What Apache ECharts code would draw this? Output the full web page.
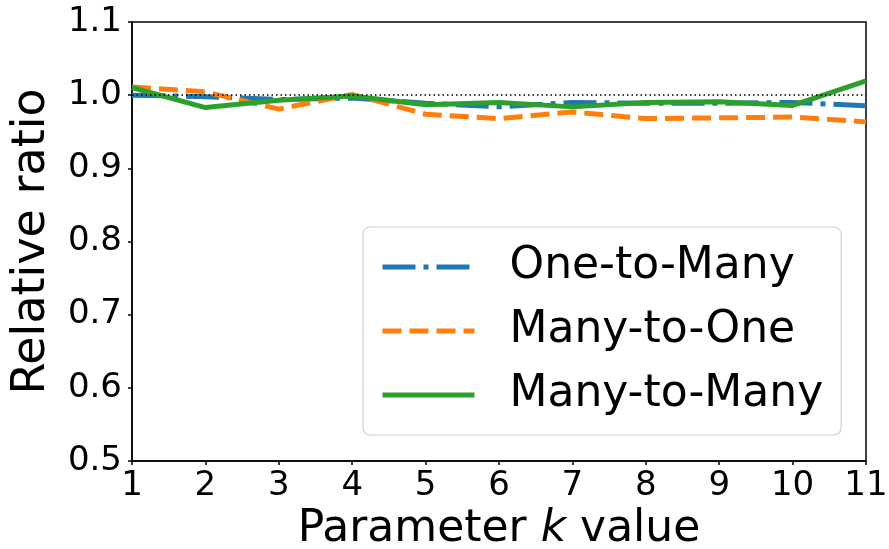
<!DOCTYPE html>
<html>
<head>
<meta charset="utf-8">
<script src="https://cdn.jsdelivr.net/npm/echarts@6/dist/echarts.min.js"></script>
<style>
html,body{margin:0;padding:0;background:#fff;}
#chart{width:889px;height:549px;}
</style>
</head>
<body>
<div id="chart"></div>
<script>
const kValues = [1, 2, 3, 4, 5, 6, 7, 8, 9, 10, 11];
const oneToMany = [1.000, 0.998, 0.994, 0.996, 0.989, 0.984, 0.990, 0.989, 0.989, 0.990, 0.9855];
const manyToOne = [1.011, 1.0045, 0.981, 1.001, 0.974, 0.968, 0.977, 0.968, 0.969, 0.970, 0.9635];
const manyToMany = [1.0105, 0.983, 0.993, 0.999, 0.987, 0.990, 0.984, 0.990, 0.991, 0.986, 1.0195];
const seriesNames = ['One-to-Many', 'Many-to-One', 'Many-to-Many'];
const yTicks = [0.5, 0.6, 0.7, 0.8, 0.9, 1.0, 1.1];
const refValue = 1.0;

const FONT = 'DejaVu Sans';
const pairs = arr => kValues.map((k, i) => [k, arr[i]]);

const chart = echarts.init(document.getElementById('chart'), null, {renderer: 'canvas'});
chart.setOption({
  animation: false,
  backgroundColor: '#fff',
  textStyle: {fontFamily: FONT},
  grid: {left: 132, right: 23, top: 22, bottom: 88, show: true, borderColor: '#000', borderWidth: 1.5,
         backgroundColor: 'transparent', containLabel: false, outerBoundsMode: 'none'},
  xAxis: {
    type: 'value', min: 1, max: 11, interval: 1,
    name: 'Parameter {i|k} value', nameLocation: 'middle', nameGap: 46,
    nameTextStyle: {fontFamily: FONT, fontSize: 44, color: '#000', rich: {i: {fontFamily: FONT, fontSize: 44, fontStyle: 'italic', color: '#000'}}},
    axisLine: {show: true, lineStyle: {color: '#000', width: 1.5}},
    axisTick: {show: true, length: 4, lineStyle: {color: '#000', width: 1.5}},
    axisLabel: {fontFamily: FONT, fontSize: 34, color: '#000', margin: 8},
    splitLine: {show: false}
  },
  yAxis: {
    type: 'value', min: 0.5, max: 1.1, interval: 0.1,
    name: 'Relative ratio', nameLocation: 'middle', nameGap: 77,
    nameTextStyle: {fontFamily: FONT, fontSize: 46, color: '#000'},
    axisLine: {show: true, lineStyle: {color: '#000', width: 1.5}},
    axisTick: {show: true, length: 4, lineStyle: {color: '#000', width: 1.5}},
    axisLabel: {fontFamily: FONT, fontSize: 34, color: '#000', margin: 10,
      formatter: v => { const t = yTicks.find(x => Math.abs(x - v) < 1e-6); return (t !== undefined ? t : v).toFixed(1); }},
    splitLine: {show: false}
  },
  legend: {
    orient: 'vertical', left: 363, top: 227,
    padding: [16, 18, 16, 17],
    itemWidth: 92, itemHeight: 14, itemGap: 16,
    backgroundColor: 'rgba(255,255,255,0.8)', borderColor: '#d0d0d0', borderWidth: 1.2, borderRadius: 7,
    itemStyle: {opacity: 0},
    lineStyle: {width: 5},
    textStyle: {fontFamily: FONT, fontSize: 44, color: '#000', padding: [0, 0, 0, 30], lineHeight: 48},
    data: seriesNames
  },
  series: [
    {name: seriesNames[0], type: 'line', data: pairs(oneToMany), symbol: 'none', z: 2,
     lineStyle: {color: '#1f77b4', width: 5, type: [33, 8, 5, 8]}, itemStyle: {color: '#1f77b4'}},
    {name: seriesNames[1], type: 'line', data: pairs(manyToOne), symbol: 'none', z: 3,
     lineStyle: {color: '#ff7f0e', width: 5, type: [19, 8]}, itemStyle: {color: '#ff7f0e'}},
    {name: seriesNames[2], type: 'line', data: pairs(manyToMany), symbol: 'none', z: 4,
     lineStyle: {color: '#2ca02c', width: 5, type: 'solid'}, itemStyle: {color: '#2ca02c'},
     markLine: {silent: true, symbol: 'none', label: {show: false}, z: 10,
       lineStyle: {color: '#000', width: 1.5, type: [1.5, 3]},
       data: [{yAxis: refValue}]}}
  ]
});
</script>
</body>
</html>
